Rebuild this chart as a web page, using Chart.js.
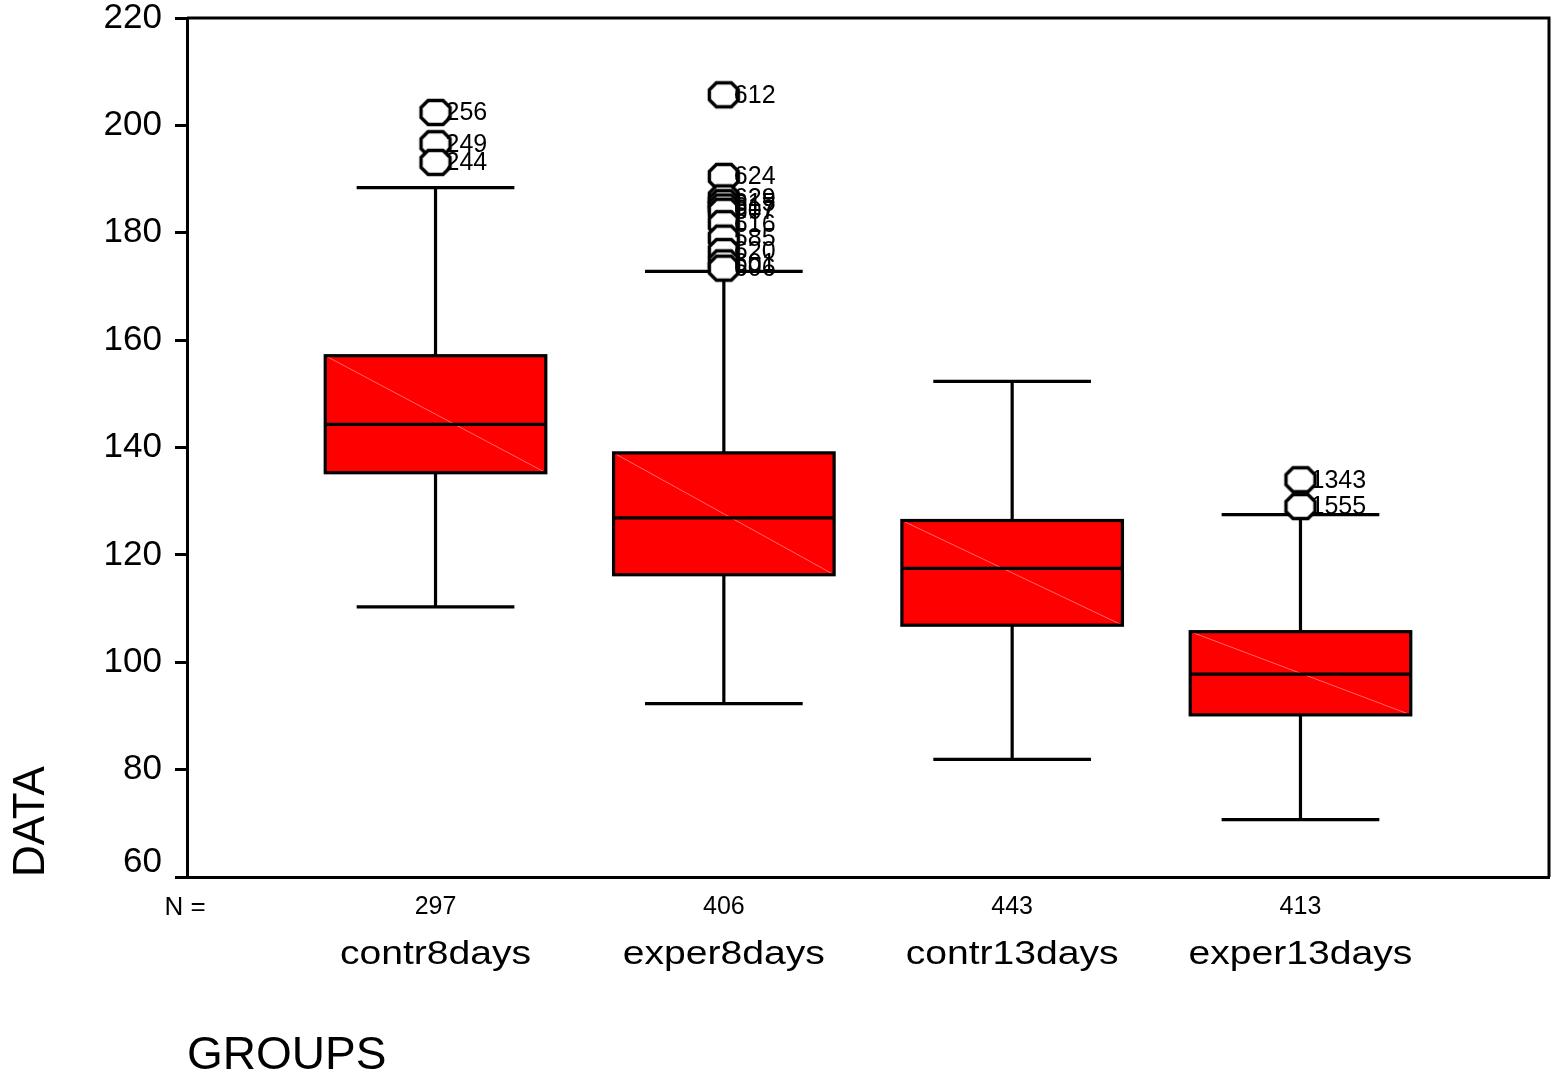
<!DOCTYPE html>
<html lang="en">
<head>
    <meta charset="UTF-8">
    <title>Boxplot</title>
</head>
<body style="margin: 0 0 0 0; background: #fff;">
    <div style="width:1564px;height:1079px;">
        <canvas id="myChart" width="1564" height="1079"></canvas>
    </div>

    <script src="https://cdn.jsdelivr.net/npm/chart.js@4.4.0/dist/chart.umd.min.js"></script>
    <script>
        // data
        const groups = ['contr8days', 'exper8days', 'contr13days', 'exper13days'];
        const counts = [297, 406, 443, 413];
        const whiskerLow = [110.3, 92.3, 81.9, 70.7];
        const q1 = [135.3, 116.3, 106.9, 90.2];
        const median = [144.3, 126.9, 117.5, 97.8];
        const q3 = [157.1, 139.0, 126.4, 105.7];
        const whiskerHigh = [188.4, 172.8, 152.3, 127.5];

        // outliers: group number (1..4), value, case id
        const outlierGroup = [1, 1, 1, 2, 2, 2, 2, 2, 2, 2, 2, 2, 2, 2, 4, 4];
        const outlierValue = [202.4, 196.6, 193.1, 205.7, 190.5, 186.5, 185.6, 184.8, 184.0, 181.7, 179.0, 176.5, 174.4, 173.4, 134.0, 129.0];
        const outlierId = ['256', '249', '244', '612', '624', '629', '615', '617', '607', '616', '585', '620', '601', '606', '1343', '1555'];

        const yTicks = [60, 80, 100, 120, 140, 160, 180, 200, 220];

        const FONT = 'Liberation Sans, Arial, sans-serif';
        const boxWidth = 0.765;   // in x units
        const capWidth = 0.547;

        // octagon marker like the SPSS one
        function makeOctagon() {
            const c = document.createElement('canvas');
            c.width = 36; c.height = 31;
            const g = c.getContext('2d');
            const w = 29, h = 24, k = 7;
            const x0 = 3.5, y0 = 3.5;
            g.beginPath();
            g.moveTo(x0 + k, y0);
            g.lineTo(x0 + w - k, y0);
            g.lineTo(x0 + w, y0 + k);
            g.lineTo(x0 + w, y0 + h - k);
            g.lineTo(x0 + w - k, y0 + h);
            g.lineTo(x0 + k, y0 + h);
            g.lineTo(x0, y0 + h - k);
            g.lineTo(x0, y0 + k);
            g.closePath();
            g.fillStyle = '#fff';
            g.fill();
            g.lineWidth = 3.4;
            g.strokeStyle = '#000';
            g.stroke();
            return c;
        }

        const outlierPoints = outlierGroup.map((g, i) => ({ x: g, y: outlierValue[i] }));

        const boxPlugin = {
            id: 'boxes',
            beforeDatasetsDraw(chart) {
                const ctx = chart.ctx;
                const x = chart.scales.x, y = chart.scales.y;
                ctx.save();
                ctx.strokeStyle = '#000';
                ctx.lineWidth = 3.2;
                groups.forEach((name, i) => {
                    const xc = x.getPixelForValue(i + 1);
                    const hb = x.getPixelForValue(i + 1 + boxWidth / 2) - xc;
                    const hc = x.getPixelForValue(i + 1 + capWidth / 2) - xc;
                    const yLo = y.getPixelForValue(whiskerLow[i]);
                    const yHi = y.getPixelForValue(whiskerHigh[i]);
                    const y1 = y.getPixelForValue(q1[i]);
                    const y3 = y.getPixelForValue(q3[i]);
                    const ym = y.getPixelForValue(median[i]);

                    // whiskers
                    ctx.beginPath();
                    ctx.moveTo(xc, y3); ctx.lineTo(xc, yHi);
                    ctx.moveTo(xc, y1); ctx.lineTo(xc, yLo);
                    ctx.moveTo(xc - hc, yHi); ctx.lineTo(xc + hc, yHi);
                    ctx.moveTo(xc - hc, yLo); ctx.lineTo(xc + hc, yLo);
                    ctx.stroke();

                    // box
                    ctx.fillStyle = '#ff0000';
                    ctx.fillRect(xc - hb, y3, hb * 2, y1 - y3);
                    ctx.save();
                    ctx.strokeStyle = '#ff6a6a';
                    ctx.lineWidth = 1;
                    ctx.beginPath();
                    ctx.moveTo(xc - hb, y3); ctx.lineTo(xc + hb, y1);
                    ctx.stroke();
                    ctx.restore();
                    ctx.strokeRect(xc - hb, y3, hb * 2, y1 - y3);

                    // median
                    ctx.beginPath();
                    ctx.moveTo(xc - hb, ym); ctx.lineTo(xc + hb, ym);
                    ctx.stroke();
                });
                ctx.restore();
            },
            afterDatasetsDraw(chart) {
                const ctx = chart.ctx;
                const meta = chart.getDatasetMeta(0);
                ctx.save();
                ctx.fillStyle = '#000';
                ctx.font = '25px ' + FONT;
                ctx.textAlign = 'left';
                ctx.textBaseline = 'middle';
                meta.data.forEach((pt, i) => {
                    ctx.fillText(outlierId[i], pt.x + 10, pt.y + 1);
                });
                ctx.restore();
            },
            afterDraw(chart) {
                const ctx = chart.ctx;
                const a = chart.chartArea;
                const x = chart.scales.x, y = chart.scales.y;
                ctx.save();
                // top and right frame
                ctx.strokeStyle = '#000';
                ctx.lineWidth = 3;
                ctx.beginPath();
                ctx.moveTo(a.left, a.top); ctx.lineTo(a.right, a.top); ctx.lineTo(a.right, a.bottom);
                ctx.stroke();

                ctx.fillStyle = '#000';
                ctx.textBaseline = 'middle';
                // lowest y label sits a little above its tick, as in SPSS
                ctx.textAlign = 'right';
                ctx.font = '35px ' + FONT;
                ctx.fillText(String(yTicks[0]), a.left - 25, y.getPixelForValue(yTicks[0]) - 15);

                ctx.font = '26px ' + FONT;
                ctx.textAlign = 'center';
                ctx.fillText('N =', a.left - 2, a.bottom + 31);
                groups.forEach((name, i) => {
                    const xc = x.getPixelForValue(i + 1);
                    ctx.font = '25px ' + FONT;
                    ctx.fillText(String(counts[i]), xc, a.bottom + 30);
                    ctx.save();
                    ctx.translate(xc, a.bottom + 78);
                    ctx.scale(1.15, 1);
                    ctx.font = '34px ' + FONT;
                    ctx.fillText(name, 0, 0);
                    ctx.restore();
                });
                ctx.restore();
            }
        };

        const config = {
            type: 'scatter',
            data: {
                datasets: [{
                    data: outlierPoints,
                    pointStyle: makeOctagon(),
                    pointRadius: 14,
                    pointHoverRadius: 14
                }]
            },
            plugins: [boxPlugin],
            options: {
                responsive: false,
                animation: false,
                layout: { padding: { top: 18, right: 12, left: 0, bottom: 0 } },
                plugins: {
                    legend: { display: false },
                    tooltip: { enabled: false }
                },
                scales: {
                    x: {
                        type: 'linear',
                        min: 0.138,
                        max: 4.862,
                        grid: { display: false },
                        ticks: { display: false },
                        border: { display: true, color: '#000', width: 3 },
                        title: {
                            display: true,
                            text: 'GROUPS',
                            align: 'start',
                            color: '#000',
                            font: { family: FONT, size: 46, lineHeight: 1.0 },
                            padding: { top: 0, bottom: 0 }
                        },
                        afterFit(s) { s.height = 202; s.paddingLeft = 0; s.paddingRight = 0; }
                    },
                    y: {
                        min: 60,
                        max: 220,
                        afterBuildTicks(s) { s.ticks = yTicks.map(v => ({ value: v })); },
                        grid: {
                            drawOnChartArea: false,
                            drawTicks: true,
                            tickLength: 12,
                            color: '#000',
                            lineWidth: 3
                        },
                        border: { display: true, color: '#000', width: 3 },
                        ticks: {
                            color: '#000',
                            padding: 13,
                            font: { family: FONT, size: 35 },
                            callback: (v) => v === yTicks[0] ? '' : String(v)
                        },
                        title: {
                            display: true,
                            text: 'DATA',
                            align: 'start',
                            color: '#000',
                            font: { family: FONT, size: 44, lineHeight: 1.0 },
                            padding: { top: 10, bottom: 0 }
                        },
                        afterFit(s) { s.width = 187; s.paddingTop = 0; s.paddingBottom = 0; }
                    }
                }
            }
        };

        const myChart = new Chart(document.getElementById('myChart'), config);
    </script>
</body>
</html>
